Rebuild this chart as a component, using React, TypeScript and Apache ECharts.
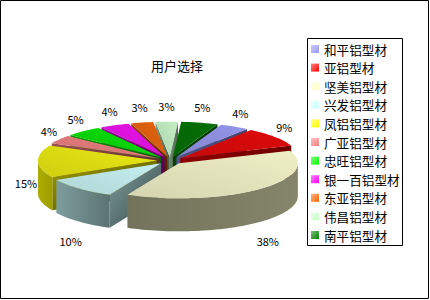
import React, { useEffect, useRef } from 'react';
import * as echarts from 'echarts';

// Market share of aluminium profile brands chosen by users (percent)
const brands = [
  '和平铝型材', '亚铝型材', '坚美铝型材', '兴发铝型材', '凤铝铝型材', '广亚铝型材',
  '忠旺铝型材', '银一百铝型材', '东亚铝型材', '伟昌铝型材', '南平铝型材',
];
const shares = [4, 9, 38, 10, 15, 4, 5, 4, 3, 3, 5];
const chartTitle = '用户选择';

// Slice palette
const baseColors = [
  '#9999FF', '#FF0000', '#FFFFCC', '#CCFFFF', '#FFFF00', '#FF8080',
  '#00FF00', '#FF00FF', '#FF6600', '#CCFFCC', '#008000',
];

// Pie geometry (pixels / degrees)
const CX = 170;
const CY = 160.5;
const RX = 119;
const RY = 35;
const DEPTH = 33;
const EXPLODE = 13;
const START_DEG = 22;

const FONT = '"Noto Sans CJK SC", "Noto Sans", sans-serif';

const rad = (d: number) => (d * Math.PI) / 180;

function toRgb(hex: string): number[] {
  const n = parseInt(hex.slice(1), 16);
  return [(n >> 16) & 255, (n >> 8) & 255, n & 255];
}
function shade(hex: string, f: number): string {
  const [r, g, b] = toRgb(hex);
  const c = (v: number) => Math.max(0, Math.min(255, Math.round(v * f)));
  return `rgb(${c(r)},${c(g)},${c(b)})`;
}
function tint(hex: string, t: number): string {
  const [r, g, b] = toRgb(hex);
  const c = (v: number) => Math.round(v + (255 - v) * t);
  return `rgb(${c(r)},${c(g)},${c(b)})`;
}
// darken and pull toward grey, the way the top faces are lit
function topTone(hex: string, f: number): string {
  const [r, g, b] = toRgb(hex);
  const grey = (r + g + b) / 3;
  const c = (v: number) => Math.max(0, Math.min(255, Math.round((v * 0.88 + grey * 0.12) * f)));
  return `rgb(${c(r)},${c(g)},${c(b)})`;
}

const total = shares.reduce((a, b) => a + b, 0);
const slices = (() => {
  let acc = 0;
  return shares.map((v) => {
    const a0 = START_DEG + (acc / total) * 360;
    acc += v;
    const a1 = START_DEG + (acc / total) * 360;
    return { a0, a1, mid: (a0 + a1) / 2 };
  });
})();

// back-to-front drawing order
const depthRank: number[] = [];
slices
  .map((_, i) => i)
  .sort((p, q) => -Math.cos(rad(slices[p].mid)) + Math.cos(rad(slices[q].mid)))
  .forEach((idx, r) => {
    depthRank[idx] = r;
  });

function wallLight(deg: number): number {
  const s = Math.sin(rad(deg));
  return 0.4 + 0.28 * Math.max(0, -s) ** 2 + 0.12 * Math.max(0, s) ** 2;
}

function renderSlice(params: any, api: any) {
  const i = params.dataIndex;
  const value = api.value(0) as number;
  const { a0, a1, mid } = slices[i];
  const color = baseColors[i];
  const ox = CX + EXPLODE * Math.sin(rad(mid));
  const oy = CY - EXPLODE * (RY / RX) * Math.cos(rad(mid));
  const pt = (deg: number, dz = 0) => [
    ox + RX * Math.sin(rad(deg)),
    oy - RY * Math.cos(rad(deg)) + dz,
  ];
  const arc = (from: number, to: number, dz = 0) => {
    const pts: number[][] = [];
    const n = Math.max(2, Math.ceil(Math.abs(to - from) / 2));
    for (let k = 0; k <= n; k++) pts.push(pt(from + ((to - from) * k) / n, dz));
    return pts;
  };
  const base = depthRank[i] * 10;
  const children: any[] = [];

  // radial cut faces
  const radialFace = (deg: number, z: number) => {
    const e = pt(deg);
    children.push({
      type: 'polygon',
      z2: z,
      shape: { points: [[ox, oy], e, [e[0], e[1] + DEPTH], [ox, oy + DEPTH]] },
      style: {
        fill: {
          type: 'linear', x: 0, y: 0, x2: 1, y2: 1,
          colorStops: [
            { offset: 0, color: shade(color, 0.62) },
            { offset: 1, color: shade(color, 0.28) },
          ],
        },
      },
    });
  };
  if (Math.sin(rad(a0)) < 0) radialFace(a0, base + 1);
  if (Math.sin(rad(a1)) > 0) radialFace(a1, base + 2);

  // outer wall (front half only)
  const w0 = Math.max(a0, 90);
  const w1 = Math.min(a1, 270);
  if (w1 > w0) {
    const top = arc(w0, w1);
    const bottom = arc(w0, w1, DEPTH).reverse();
    children.push({
      type: 'polygon',
      z2: base + 3,
      shape: { points: top.concat(bottom) },
      style: {
        fill: {
          type: 'linear', x: 0, y: 0, x2: 1, y2: 0,
          colorStops: [
            { offset: 0, color: shade(color, wallLight(w1)) },
            { offset: 1, color: shade(color, wallLight(w0)) },
          ],
        },
      },
    });
  }

  // top face
  children.push({
    type: 'polygon',
    z2: base + 4,
    shape: { points: [[ox, oy]].concat(arc(a0, a1)) },
    style: {
      fill: {
        type: 'linear', x: 0, y: 1, x2: 1, y2: 0,
        colorStops: [
          { offset: 0, color: topTone(color, 0.84) },
          { offset: 1, color: topTone(color, 0.95) },
        ],
      },
    },
  });

  // percent label
  const s = Math.sin(rad(mid));
  const c = Math.cos(rad(mid));
  const lx = ox + (RX + 12) * s;
  const ly = oy - (RY + 16) * c + DEPTH * Math.max(0, 0.5 - c) + 8 * Math.max(0, -s) * Math.max(0, 0.5 - Math.abs(c));
  children.push({
    type: 'text',
    z2: 500,
    style: {
      text: `${Math.round((value / total) * 100)}%`,
      x: lx,
      y: ly,
      fill: '#000',
      fontSize: 11,
      fontFamily: FONT,
      align: 'center',
      verticalAlign: 'middle',
    },
  });

  return { type: 'group', children };
}

export default function App() {
  const ref = useRef<HTMLDivElement>(null);

  useEffect(() => {
    if (!ref.current) return;
    const chart = echarts.init(ref.current, null, { renderer: 'svg' });
    chart.setOption({
      animation: false,
      backgroundColor: '#fff',
      title: {
        text: chartTitle,
        left: 151,
        top: 58,
        padding: 0,
        textStyle: { fontSize: 13, fontWeight: 'normal', color: '#000', fontFamily: FONT, lineHeight: 14 },
      },
      legend: {
        orient: 'vertical',
        left: 311,
        top: 42.5,
        padding: 0,
        itemWidth: 8,
        itemHeight: 8,
        itemGap: 5.6,
        icon: 'rect',
        selectedMode: false,
        data: brands,
        textStyle: { fontSize: 12.6, lineHeight: 13, color: '#000', fontFamily: FONT },
      },
      graphic: [
        {
          type: 'rect',
          shape: { x: 0.5, y: 0.5, width: 428, height: 298 },
          style: { fill: 'none', stroke: '#000', lineWidth: 1 },
          silent: true,
        },
        {
          type: 'rect',
          shape: { x: 307.5, y: 38.5, width: 95, height: 207 },
          style: { fill: 'none', stroke: '#000', lineWidth: 1 },
          silent: true,
        },
      ],
      series: [
        {
          // drives the legend entries only; drawn off-canvas
          type: 'pie',
          center: [-100, -100],
          radius: 1,
          silent: true,
          label: { show: false },
          labelLine: { show: false },
          data: brands.map((name, i) => ({
            name,
            value: shares[i],
            itemStyle: {
              color: {
                type: 'linear', x: 0, y: 0, x2: 1, y2: 1,
                colorStops: [
                  { offset: 0, color: tint(baseColors[i], 0.5) },
                  { offset: 1, color: baseColors[i] },
                ],
              },
            },
          })),
        },
        {
          type: 'custom',
          coordinateSystem: 'none',
          silent: true,
          data: shares.map((v) => [v]),
          renderItem: renderSlice,
        },
      ],
    });
    return () => chart.dispose();
  }, []);

  return (
    <div
      ref={ref}
      style={{ position: 'fixed', left: 0, top: 0, width: 430, height: 300 }}
    />
  );
}
